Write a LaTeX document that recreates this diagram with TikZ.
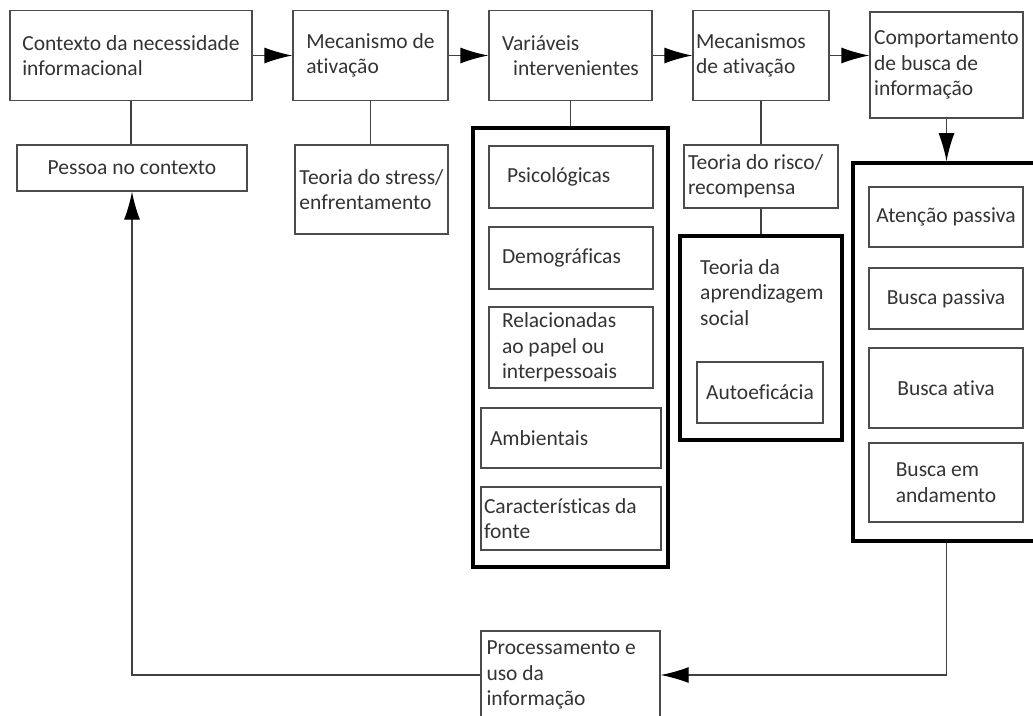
\documentclass[tikz,border=0pt]{standalone}
\usepackage{fontspec}
\setmainfont[Ligatures=NoCommon]{Carlito}
\usepackage{tikz}
\usetikzlibrary{arrows.meta,positioning}

\begin{document}
\begin{tikzpicture}[x=1pt, y=-1pt, font=\fontsize{21.5}{25.5}\selectfont, text=black!80]
		\tikzstyle{caixa} = [rectangle, draw=black!70, line width=1.3pt, align=flush left,
		inner ysep=2pt]
		\tikzstyle{grupo} = [rectangle, draw=black, line width=3.6pt, inner sep=0pt]
		\tikzstyle{liga} = [draw=black!75, line width=1.3pt]
		\tikzstyle{seta} = [liga, -{Latex[length=28pt,width=16pt,color=black]}]
		\path[use as bounding box] (0,0) rectangle (1033,715);
		\clip (0,0) rectangle (1033,715);
		% linha de cima
		\node[caixa, minimum width=242pt, minimum height=90pt] (ctx) at (131,55.5)
		{Contexto da necessidade\\informacional};
		\node[caixa, minimum width=155pt, minimum height=90pt] (mec1) at (370.5,55.5)
		{Mecanismo de\\ativação};
		\node[caixa, minimum width=163pt, minimum height=90pt] (var) at (570.5,55.5)
		{Variáveis\\\hspace*{11pt}intervenientes};
		\node[caixa, text width=130pt, inner xsep=3pt, minimum height=90pt] (mec2)
		at (761,55.5) {Mecanismos\\de ativação};
		\node[caixa, minimum width=153pt, minimum height=106pt] (comp) at (946.5,65)
		{Comportamento\\de busca de\\informação};
		% segunda linha
		\node[caixa, minimum width=230pt, minimum height=46pt] (pessoa) at (132,168)
		{Pessoa no contexto};
		\node[caixa, minimum width=153pt, minimum height=89pt] (stress) at (371.5,189.5)
		{Teoria do stress/\\enfrentamento};
		% variaveis intervenientes
		\node[grupo, minimum width=195pt, minimum height=439pt] (grpV) at (570.5,347.5) {};
		\node[caixa, text width=128pt, inner xsep=18pt, minimum height=62pt] (psico)
		at (571,177) {Psicológicas};
		\node[caixa, text width=138pt, inner xsep=13pt, minimum height=62pt] (demo)
		at (571,258) {Demográficas};
		\node[caixa, text width=138pt, inner xsep=13pt, minimum height=81pt] (rel)
		at (571,347.5) {Relacionadas\\ao papel ou\\interpessoais};
		\node[caixa, text width=162pt, inner xsep=9pt, minimum height=60pt] (amb)
		at (571,438) {Ambientais};
		\node[caixa, text width=174pt, inner xsep=3pt, minimum height=63pt] (carac)
		at (571,518.5) {Características da\\fonte};
		% risco e aprendizagem
		\node[caixa, text width=146pt, inner xsep=4pt, minimum height=63pt] (risco)
		at (761,176.5) {Teoria do risco/\\recompensa};
		\node[grupo, minimum width=162pt, minimum height=204pt] (grpA) at (761,338) {};
		\node[anchor=base west, align=flush left, inner sep=0pt] (aprend) at (700,325)
		{Teoria da\\aprendizagem\\social};
		\node[caixa, minimum width=126pt, minimum height=61pt] (auto) at (760,392.5)
		{Autoeficácia};
		% comportamento de busca
		\node[grupo, minimum width=187pt, minimum height=378pt] (grpC) at (946.5,352) {};
		\node[caixa, minimum width=154pt, minimum height=60pt] (aten) at (946,217)
		{Atenção passiva};
		\node[caixa, minimum width=154pt, minimum height=61pt] (bpass) at (946,298.5)
		{Busca passiva};
		\node[caixa, minimum width=154pt, minimum height=80pt] (bativa) at (946,388)
		{Busca ativa};
		\node[caixa, minimum width=154pt, minimum height=79pt] (band) at (946,482.5)
		{Busca em\\andamento};
		% processamento
		\node[caixa, text width=168pt, inner xsep=5.5pt, minimum height=88pt] (proc)
		at (570.5,675) {Processamento e\\uso da\\informação};
		% ligacoes
		\draw[seta] (ctx) -- (mec1);
		\draw[seta] (mec1) -- (var);
		\draw[seta] (var) -- (mec2);
		\draw[seta] (mec2.east) -- (mec2.east -| comp.west);
		\draw[liga] (ctx.south) -- (ctx.south |- pessoa.north);
		\draw[liga] (mec1.south) -- (mec1.south |- stress.north);
		\draw[liga] (var) -- (grpV);
		\draw[liga] (mec2) -- (risco);
		\draw[liga] (risco) -- (grpA);
		\draw[seta] (comp) -- (grpC);
		\draw[seta] (grpC.south) |- (proc.east);
		\draw[seta] (proc.west) -| (pessoa.south);
	\end{tikzpicture}
\end{document}
